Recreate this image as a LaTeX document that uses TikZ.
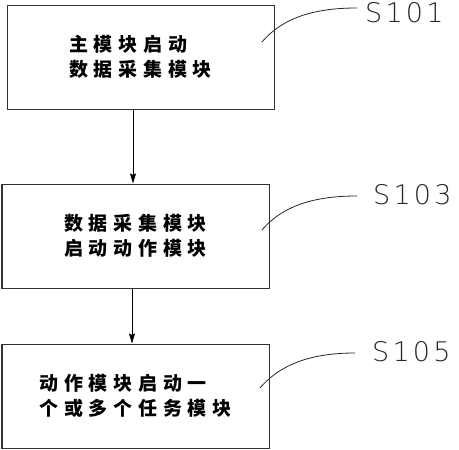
\documentclass[tikz,border=0pt]{standalone}
\usepackage{fontspec}
\newfontfamily\cjk[LetterSpace=30]{Noto Sans CJK SC}
\newfontfamily\lblfont[LetterSpace=12]{DejaVu Sans ExtraLight}
\usetikzlibrary{arrows.meta}
\begin{document}
\begin{tikzpicture}[x=1pt,y=-1pt,
  stepbox/.style={draw=black!80, line width=1pt, minimum width=267pt, minimum height=104pt, inner sep=0pt,
    font=\cjk\bfseries\fontsize{19pt}{25pt}\selectfont, align=left},
  lbl/.style={font=\lblfont\fontsize{27pt}{27pt}\selectfont, text=black!85, anchor=west, inner sep=2pt},
  leader/.style={draw=black!85, line width=0.8pt},
  flow/.style={draw=black, line width=0.9pt, -{Stealth[length=10pt,width=6pt,inset=1.5pt]}}]
\useasboundingbox (0,0) rectangle (459,450);
\node[stepbox] (b1) at (140.5,57) {主模块启动\\数据采集模块};
\node[stepbox] (b2) at (135.5,236) {数据采集模块\\启动动作模块};
\node[stepbox] (b3) at (135.5,396) {动作模块启动一\\个或多个任务模块};
\draw[flow] ([xshift=-7.5pt]b1.south) -- ([xshift=-7.5pt]b1.south |- b2.north);
\draw[flow] ([xshift=-3.5pt]b2.south) -- ([xshift=-3.5pt]b2.south |- b3.north);
\node[lbl] (l1) at (363,13) {S101};
\node[lbl] (l2) at (371,195) {S103};
\node[lbl] (l3) at (370,352) {S105};
\coordinate (s1) at (262,42);
\coordinate (s2) at (262,230);
\coordinate (s3) at (260,388);
\draw[leader] (s1) .. controls (285,15) and (320,8) .. ([xshift=-6pt,yshift=5pt]l1.west);
\draw[leader] (s2) .. controls (285,203) and (320,196) .. ([xshift=-14pt,yshift=-1pt]l2.west);
\draw[leader] (s3) .. controls (283,361) and (318,353) .. ([xshift=-15pt,yshift=-1pt]l3.west);
\end{tikzpicture}
\end{document}
